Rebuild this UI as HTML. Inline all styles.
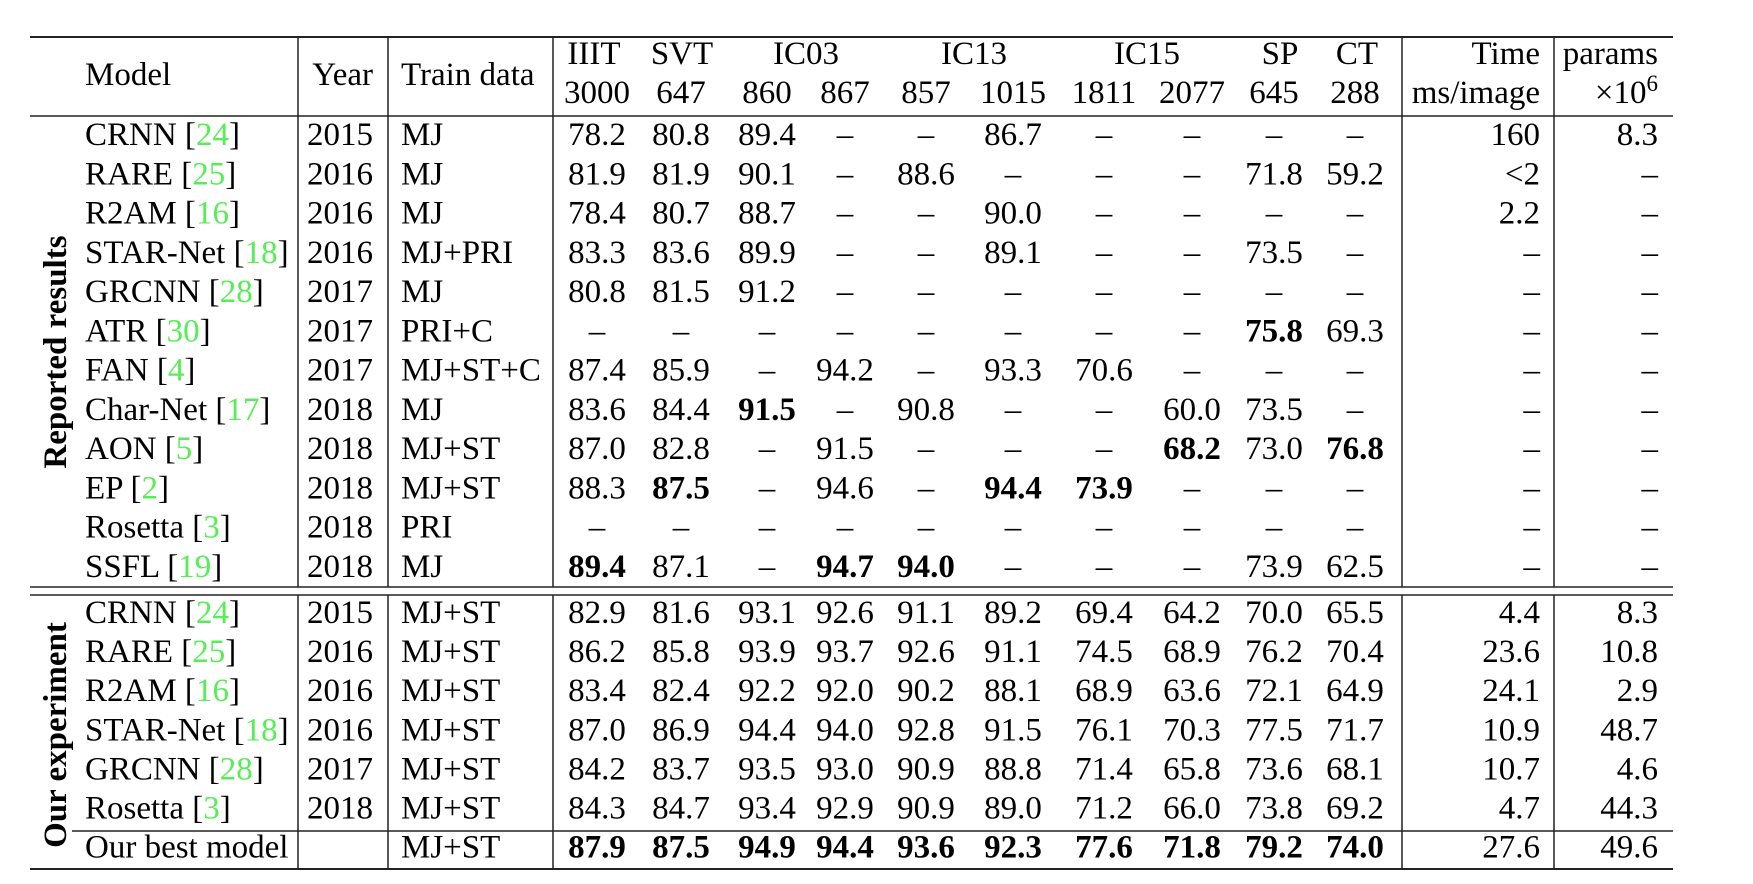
<!DOCTYPE html>
<html><head><meta charset="utf-8">
<style>
html,body{margin:0;padding:0;background:#fff;}
svg{display:block;}
text{font-family:"Liberation Serif",serif;font-size:33px;fill:#000;}
.b{font-weight:bold;}
.g{fill:#55ee55;}
</style></head>
<body>
<svg id="tbl" width="1753" height="884" viewBox="0 0 1753 884" xmlns="http://www.w3.org/2000/svg"></svg>
<script>
const colHeads1 = ["IIIT","SVT","IC03","","IC13","","IC15","","SP","CT"];
const colHeads2 = ["3000","647","860","867","857","1015","1811","2077","645","288"];
const D = "\u2013";
const reportedModels = [["CRNN","24"],["RARE","25"],["R2AM","16"],["STAR-Net","18"],["GRCNN","28"],["ATR","30"],["FAN","4"],["Char-Net","17"],["AON","5"],["EP","2"],["Rosetta","3"],["SSFL","19"]];
const reportedYears = ["2015","2016","2016","2016","2017","2017","2017","2018","2018","2018","2018","2018"];
const reportedTrain = ["MJ","MJ","MJ","MJ+PRI","MJ","PRI+C","MJ+ST+C","MJ","MJ+ST","MJ+ST","PRI","MJ"];
const reportedVals = [
 ["78.2","80.8","89.4",D,D,"86.7",D,D,D,D],
 ["81.9","81.9","90.1",D,"88.6",D,D,D,"71.8","59.2"],
 ["78.4","80.7","88.7",D,D,"90.0",D,D,D,D],
 ["83.3","83.6","89.9",D,D,"89.1",D,D,"73.5",D],
 ["80.8","81.5","91.2",D,D,D,D,D,D,D],
 [D,D,D,D,D,D,D,D,"*75.8","69.3"],
 ["87.4","85.9",D,"94.2",D,"93.3","70.6",D,D,D],
 ["83.6","84.4","*91.5",D,"90.8",D,D,"60.0","73.5",D],
 ["87.0","82.8",D,"91.5",D,D,D,"*68.2","73.0","*76.8"],
 ["88.3","*87.5",D,"94.6",D,"*94.4","*73.9",D,D,D],
 [D,D,D,D,D,D,D,D,D,D],
 ["*89.4","87.1",D,"*94.7","*94.0",D,D,D,"73.9","62.5"]
];
const reportedTime = ["160","<2","2.2",D,D,D,D,D,D,D,D,D];
const reportedParams = ["8.3",D,D,D,D,D,D,D,D,D,D,D];
const oursModels = [["CRNN","24"],["RARE","25"],["R2AM","16"],["STAR-Net","18"],["GRCNN","28"],["Rosetta","3"],["Our best model",""]];
const oursYears = ["2015","2016","2016","2016","2017","2018",""];
const oursTrain = ["MJ+ST","MJ+ST","MJ+ST","MJ+ST","MJ+ST","MJ+ST","MJ+ST"];
const oursVals = [
 ["82.9","81.6","93.1","92.6","91.1","89.2","69.4","64.2","70.0","65.5"],
 ["86.2","85.8","93.9","93.7","92.6","91.1","74.5","68.9","76.2","70.4"],
 ["83.4","82.4","92.2","92.0","90.2","88.1","68.9","63.6","72.1","64.9"],
 ["87.0","86.9","94.4","94.0","92.8","91.5","76.1","70.3","77.5","71.7"],
 ["84.2","83.7","93.5","93.0","90.9","88.8","71.4","65.8","73.6","68.1"],
 ["84.3","84.7","93.4","92.9","90.9","89.0","71.2","66.0","73.8","69.2"],
 ["*87.9","*87.5","*94.9","*94.4","*93.6","*92.3","*77.6","*71.8","*79.2","*74.0"]
];
const oursTime = ["4.4","23.6","24.1","10.9","10.7","4.7","27.6"];
const oursParams = ["8.3","10.8","2.9","48.7","4.6","44.3","49.6"];

const svg = document.getElementById('tbl');
const NS = "http://www.w3.org/2000/svg";
const colX = [597,681,767,845,926,1013,1104,1192,1274,1355];
const headX1 = [594,682,806,null,974,null,1147,null,1280,1357];

function txt(x,y,s,anchor,cls,name){
  const t=document.createElementNS(NS,'text');
  t.setAttribute('x',x);t.setAttribute('y',y);
  t.setAttribute('text-anchor',anchor||'start');
  if(cls)t.setAttribute('class',cls);
  t.textContent=s;
  
  
  svg.appendChild(t);return t;
}
function line(x1,y1,x2,y2,w,name){
  const l=document.createElementNS(NS,'line');
  l.setAttribute('x1',x1);l.setAttribute('y1',y1);l.setAttribute('x2',x2);l.setAttribute('y2',y2);
  l.setAttribute('stroke','#222');l.setAttribute('stroke-width',w||1.5);
  
  
  svg.appendChild(l);
}
line(30,37,1673,37,2,'top-rule');
line(30,116,1673,116,1.5,'header-rule');
line(30,587,1673,587,1.5,'section-rule-1');
line(30,595,1673,595,1.5,'section-rule-2');
line(72,831,1673,831,1.5,'best-model-rule');
line(30,869,1673,869,2,'bottom-rule');
[298,388,553,1402,1554].forEach(x=>{line(x,37,x,587,1.5,'column-divider');line(x,595,x,869,1.5,'column-divider');});
txt(85,85,"Model","start",null,'model-header');
txt(373,85,"Year","end",null,'year-header');
txt(401,85,"Train data","start",null,'train-data-header');
colHeads1.forEach((h,i)=>{if(h)txt(headX1[i],64,h,"middle",null,'dataset-header');});
colHeads2.forEach((h,i)=>{txt(colX[i],103,h,"middle",null,'dataset-size-header');});
txt(1540,64,"Time","end",null,'time-header');
txt(1540,103,"ms/image","end",null,'time-unit-header');
txt(1658,64,"params","end",null,'params-header');
const pu=txt(1658,103,"","end",null,'params-unit-header');
pu.innerHTML='\u00d710<tspan dy="-12" font-size="23">6</tspan>';

function modelCell(x,y,m){
  const t=txt(x,y,m[0]+(m[1]?" [":""),"start",null,'model-name');
  if(m[1]){
    const a=document.createElementNS(NS,'tspan');a.setAttribute('class','g');a.textContent=m[1];t.appendChild(a);
    const c=document.createElementNS(NS,'tspan');c.textContent="]";t.appendChild(c);
  }
}
function val(x,y,v){
  if(v.startsWith('*'))txt(x,y,v.slice(1),"middle","b",'score-best');
  else txt(x,y,v,"middle",null,'score');
}
reportedModels.forEach((m,i)=>{
  const y=145+i*39.25;
  modelCell(85,y,m);
  txt(373,y,reportedYears[i],"end",null,'year');
  txt(401,y,reportedTrain[i],"start",null,'train-data');
  reportedVals[i].forEach((v,j)=>val(colX[j],y,v));
  txt(1540,y,reportedTime[i],"end",null,'time');
  txt(1658,y,reportedParams[i],"end",null,'params');
});
oursModels.forEach((m,i)=>{
  const y=623+i*39.1;
  modelCell(85,y,m);
  txt(373,y,oursYears[i],"end",null,'year');
  txt(401,y,oursTrain[i],"start",null,'train-data');
  oursVals[i].forEach((v,j)=>val(colX[j],y,v));
  txt(1540,y,oursTime[i],"end",null,'time');
  txt(1658,y,oursParams[i],"end",null,'params');
});
const s1=txt(0,0,"Reported results","middle","b",'reported-results-label');
s1.setAttribute('transform','translate(66,352) rotate(-90)');
const s2=txt(0,0,"Our experiment","middle","b",'our-experiment-label');
s2.setAttribute('transform','translate(66,735) rotate(-90)');
</script>
</body></html>
